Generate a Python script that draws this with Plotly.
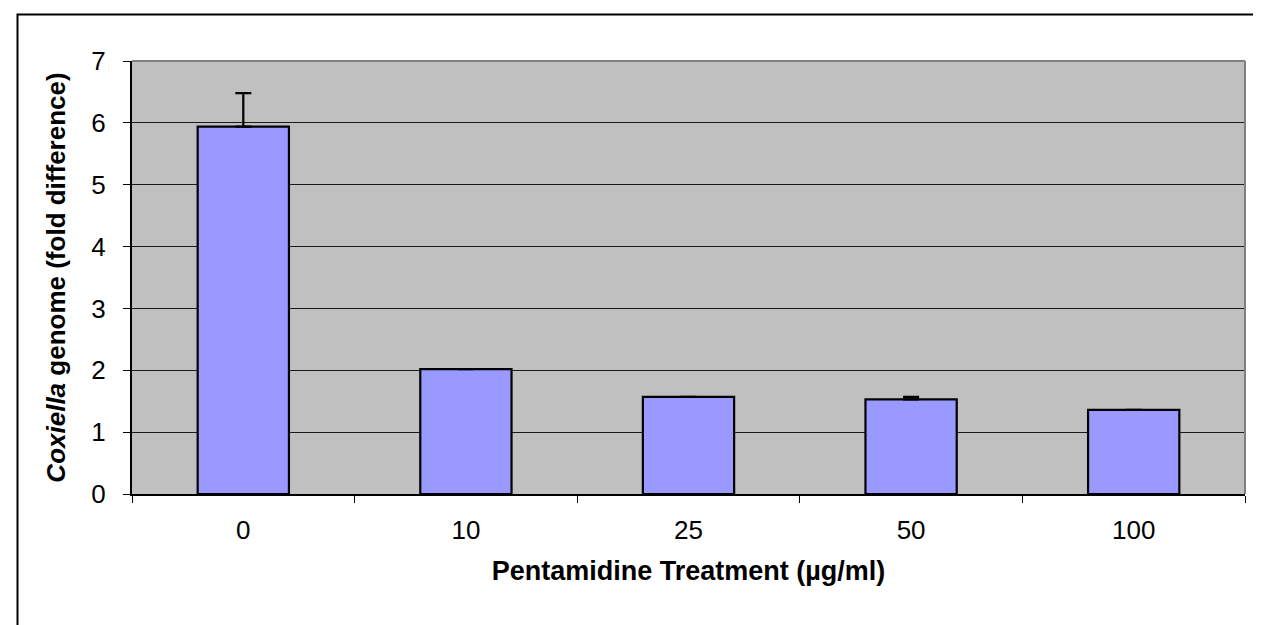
import plotly.graph_objects as go

categories = ["0", "10", "25", "50", "100"]
values = [5.94, 2.02, 1.57, 1.53, 1.36]
err_plus = [0.54, 0.0, 0.0, 0.04, 0.0]
y_ticks = [0, 1, 2, 3, 4, 5, 6, 7]

FONT = "Arial, 'Liberation Sans', sans-serif"
FS = 26
TFS = 27

fig = go.Figure()
fig.add_trace(go.Bar(
    x=categories, y=values,
    width=0.41,
    marker=dict(color="#9999FF", line=dict(color="#000000", width=2.2)),
    error_y=dict(type="data", symmetric=False, array=err_plus,
                 arrayminus=[0] * len(values), color="#000000",
                 thickness=2.2, width=8),
))

L, R, T, B = 124, 24, 53, 139
W, H = 1261, 625
pw, ph = W - L - R, H - T - B

def px_x(p):
    return (p - L) / pw

def px_y(p):
    return (H - B - p) / ph

shapes = [
    # outer frame
    dict(type="rect", xref="paper", yref="paper",
         x0=px_x(9.5), x1=px_x(1257.5), y0=px_y(640), y1=px_y(6.5),
         line=dict(color="#000000", width=2), fillcolor="rgba(0,0,0,0)", layer="below"),
    # plot area top/right border (gray)
    dict(type="line", xref="paper", yref="paper", x0=0, x1=1, y0=1, y1=1,
         line=dict(color="#808080", width=2), layer="above"),
    dict(type="line", xref="paper", yref="paper", x0=1, x1=1, y0=0, y1=1,
         line=dict(color="#808080", width=2), layer="above"),
]

fig.update_layout(
    width=W, height=H,
    margin=dict(l=L, r=R, t=T, b=B),
    paper_bgcolor="#FFFFFF",
    plot_bgcolor="#C0C0C0",
    showlegend=False,
    font=dict(family=FONT, color="#000000", size=FS),
    shapes=shapes,
    xaxis=dict(
        type="category",
        showline=True, linecolor="#000000", linewidth=1.5,
        ticks="outside", tickson="boundaries", ticklen=7, tickcolor="#000000",
        showgrid=False,
        tickfont=dict(size=FS),
        ticklabelstandoff=12,
        title=dict(text="<b>Pentamidine Treatment (µg/ml)</b>", font=dict(size=TFS), standoff=17),
    ),
    yaxis=dict(
        range=[0, 7],
        tickvals=y_ticks,
        showline=True, linecolor="#000000", linewidth=2,
        ticks="outside", ticklen=7, tickcolor="#000000",
        showgrid=True, gridcolor="#1a1a1a", gridwidth=1,
        zeroline=False,
        tickfont=dict(size=FS),
        ticklabelstandoff=12,
        title=dict(text="<b><i>Coxiella</i> genome (fold difference)</b>", font=dict(size=FS), standoff=18),
    ),
)

fig.write_html("out.html")
